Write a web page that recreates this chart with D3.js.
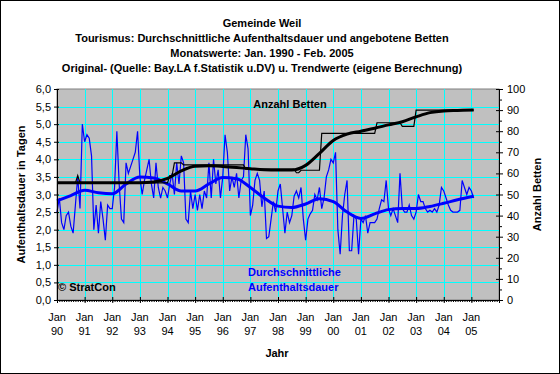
<!DOCTYPE html>
<html>
<head>
<meta charset="utf-8">
<script src="https://cdn.jsdelivr.net/npm/d3@7/dist/d3.min.js"></script>
<style>
  body { margin: 0; background: #fff; }
  svg text { font-family: "Liberation Sans", Arial, sans-serif; }
</style>
</head>
<body>
<div id="chart"></div>
<script>
(() => {

  let titleLines = [
    "Gemeinde Weil",
    "Tourismus: Durchschnittliche Aufenthaltsdauer und angebotene Betten",
    "Monatswerte: Jan. 1990 - Feb. 2005",
    "Original- (Quelle: Bay.LA f.Statistik u.DV) u. Trendwerte (eigene Berechnung)"
  ]

  let yearLabels = ["90", "91", "92", "93", "94", "95", "96", "97", "98", "99", "00", "01", "02", "03", "04", "05"]
  let leftTicks = [0, 0.5, 1, 1.5, 2, 2.5, 3, 3.5, 4, 4.5, 5, 5.5, 6]
  let rightTicks = [0, 10, 20, 30, 40, 50, 60, 70, 80, 90, 100]

  // Aufenthaltsdauer, monthly Jan 1990 - Feb 2005
  let stay = [
    2.5, 2.9, 2.2, 2.0, 2.4, 2.5, 2.1, 1.9, 2.7, 3.5, 2.6, 5.0,
    4.5, 4.7, 4.6, 4.1, 2.0, 2.7, 1.9, 2.8, 2.3, 1.7, 2.7, 2.6,
    2.6, 3.2, 4.8, 3.3, 2.3, 2.2, 3.9, 3.6, 3.8, 4.0, 4.2, 4.8,
    3.5, 3.0, 3.4, 3.7, 4.0, 3.3, 2.9, 3.9, 3.2, 2.9, 3.2, 3.1,
    2.9, 3.3, 3.6, 3.0, 3.9, 3.3, 4.1, 3.9, 2.3, 2.2, 3.1, 2.6,
    3.0, 2.55, 3.0, 2.6, 3.1, 2.9, 3.9, 2.9, 4.0, 3.3, 3.7, 2.9,
    3.5, 4.7, 4.2, 3.1, 3.5, 3.2, 3.6, 2.9, 3.4, 3.5, 4.7, 4.3,
    2.4, 2.7, 3.4, 3.6, 3.4, 2.65, 3.1, 1.75, 1.8, 2.3, 2.8, 2.5,
    3.1, 3.3, 2.6, 1.9, 2.5, 2.2, 2.4, 2.95, 3.1, 2.9, 3.2, 2.3,
    1.7, 2.3, 2.45, 2.55, 3.0, 2.85, 3.2, 2.6, 2.9, 3.5, 3.7, 4.0,
    3.9, 4.2, 2.0, 1.3, 2.4, 3.0, 3.4, 1.4, 1.4, 2.4, 2.3, 1.3,
    2.3, 2.2, 2.4, 1.9, 2.2, 2.2, 2.2, 2.3, 2.6, 2.85, 2.8, 3.4,
    2.6, 2.4, 2.6, 2.4, 2.2, 3.6, 2.6, 2.5, 2.5, 2.7, 2.4, 2.3,
    2.5, 3.0, 2.8, 2.8, 2.6, 2.5, 2.55, 2.5, 2.6, 2.5, 2.7, 3.2,
    3.1, 2.9, 2.7, 2.55, 2.5, 2.5, 2.5, 2.55, 3.4, 3.2, 3.0, 3.2,
    3.1, 2.9
  ]

  // Anzahl Betten, monthly
  let beds = [
    55.5, 55.5, 55.5, 55.5, 55.5, 55.5, 55.5, 55.5, 55.5, 59, 55.5, 55.5,
    55.5, 55.5, 55.5, 55.5, 55.5, 55.5, 55.5, 55.5, 55.5, 55.5, 55.5, 55.5,
    55.5, 55.5, 55.5, 55.5, 55.5, 55.5, 55.5, 55.5, 55.5, 55.5, 55.5, 55.5,
    55.5, 55.5, 55.5, 55.5, 55.5, 55.5, 55.5, 55.5, 55.5, 55.5, 55.5, 55.5,
    55.5, 59, 59, 65, 65, 65, 65, 64, 64, 64, 64, 64,
    64, 64, 64, 64, 64, 64, 64, 64, 64, 64, 64, 64,
    64, 64, 64, 64, 64, 64, 64, 64, 64, 64, 62, 62,
    62, 62, 62, 62, 62, 62, 62, 62, 62, 62, 62, 62,
    62, 62, 62, 62, 62, 62, 62, 62, 60.3, 60.3, 61.5, 61.5,
    61.5, 61.5, 61.5, 61.5, 61.5, 61.5, 61.5, 79, 79, 79, 79, 79,
    79, 79, 79, 79, 79, 79, 79, 79, 79, 79, 79, 79,
    79, 79, 79, 79, 79, 79, 79, 84, 84, 84, 84, 84,
    84, 84, 84, 84, 84, 84, 82.3, 82.3, 82.3, 82.3, 82.3, 82.3,
    90, 90, 90, 90, 90, 90, 90, 90, 90, 90, 90, 90,
    90, 90, 90, 90, 90, 90, 90, 90, 90, 90, 90, 90,
    90, 90
  ]

  // trend values, read every six months
  let trendMonths = [0, 6, 12, 18, 24, 30, 36, 42, 48, 54, 60, 66, 72, 78, 84, 90, 96, 102, 108, 114, 120, 126, 132, 138, 144, 150, 156, 162, 168, 174, 181]
  let stayTrend = [2.82, 2.97, 3.12, 3.05, 3.02, 3.3, 3.5, 3.47, 3.3, 3.1, 3.1, 3.3, 3.48, 3.45, 3.2, 2.9, 2.67, 2.63, 2.73, 2.88, 2.8, 2.5, 2.32, 2.45, 2.57, 2.6, 2.6, 2.66, 2.75, 2.85, 2.95]
  let bedsTrend = [55.6, 55.6, 55.6, 55.6, 55.6, 55.6, 55.6, 55.9, 57.6, 61.2, 63.4, 63.6, 63.3, 62.8, 62.2, 61.7, 61.6, 61.6, 63.8, 69.5, 75.6, 78.6, 80, 81.4, 83, 84.5, 86.8, 88.8, 89.6, 89.8, 90]

  let svg = d3.select("#chart")
  .append("svg")
  .attr("width", 560)
  .attr("height", 374)

  let margin = {top: 89, right: 61, bottom: 74, left: 57}
  let width = 560 - margin.left - margin.right
  let height = 374 - margin.top - margin.bottom

  svg.append("rect")
  .attr("x", 0.5).attr("y", 0.5)
  .attr("width", 559).attr("height", 373)
  .attr("fill", "#fff")
  .attr("stroke", "#000")

  svg.selectAll(".title")
  .data(titleLines)
  .enter()
  .append("text")
  .attr("class", "title")
  .attr("x", 262)
  .attr("y", (d, i) => 26.5 + i * 15)
  .attr("text-anchor", "middle")
  .style("font-size", "11px")
  .style("font-weight", "bold")
  .text(d => d)

  let x = d3.scaleLinear().domain([0, 192]).range([margin.left, margin.left + width])
  let yL = d3.scaleLinear().domain([0, 6]).range([margin.top + height, margin.top])
  let yR = d3.scaleLinear().domain([0, 100]).range([margin.top + height, margin.top])

  svg.append("rect")
  .attr("x", margin.left).attr("y", margin.top)
  .attr("width", width).attr("height", height)
  .attr("fill", "#c0c0c0")
  .attr("stroke", "#808080")

  let grid = svg.append("g").attr("stroke", "#00ffff").attr("stroke-width", 1)

  grid.selectAll(".hgrid")
  .data(leftTicks.filter(d => d > 0 && d < 6))
  .enter()
  .append("line")
  .attr("x1", margin.left).attr("x2", margin.left + width)
  .attr("y1", d => Math.round(yL(d)) + 0.5).attr("y2", d => Math.round(yL(d)) + 0.5)

  grid.selectAll(".vgrid")
  .data(d3.range(12, 192, 12))
  .enter()
  .append("line")
  .attr("y1", margin.top).attr("y2", margin.top + height)
  .attr("x1", d => Math.round(x(d)) + 0.5).attr("x2", d => Math.round(x(d)) + 0.5)

  let stayLine = d3.line().x((d, i) => x(i)).y(d => yL(d))
  let bedsLine = d3.line().x((d, i) => x(i)).y(d => yR(d))
  let stayTrendLine = d3.line().x((d, i) => x(trendMonths[i])).y(d => yL(d)).curve(d3.curveMonotoneX)
  let bedsTrendLine = d3.line().x((d, i) => x(trendMonths[i])).y(d => yR(d)).curve(d3.curveMonotoneX)

  svg.append("path").datum(stay)
  .attr("d", stayLine).attr("fill", "none").attr("stroke", "#0000ff").attr("stroke-width", 1.2)

  svg.append("path").datum(stayTrend)
  .attr("d", stayTrendLine).attr("fill", "none").attr("stroke", "#0000ff").attr("stroke-width", 3)

  svg.append("path").datum(beds)
  .attr("d", bedsLine).attr("fill", "none").attr("stroke", "#000").attr("stroke-width", 1.2)

  svg.append("path").datum(bedsTrend)
  .attr("d", bedsTrendLine).attr("fill", "none").attr("stroke", "#000").attr("stroke-width", 3)

  // left axis
  let leftAxis = svg.append("g")
  .attr("transform", "translate(" + margin.left + ",0)")
  .call(d3.axisLeft(yL).tickValues(leftTicks).tickSize(3).tickSizeOuter(0).tickPadding(3)
    .tickFormat(d => d3.format(".1f")(d).replace(".", ",")))
  leftAxis.selectAll(".tick line").attr("x1", 2)

  // right axis
  let rightAxis = svg.append("g")
  .attr("transform", "translate(" + (margin.left + width) + ",0)")
  .call(d3.axisRight(yR).tickValues(rightTicks).tickSize(4).tickSizeOuter(0).tickPadding(4))
  rightAxis.selectAll(".tick line").attr("x1", -3)

  svg.append("g")
  .attr("transform", "translate(" + (margin.left + width) + ",0)")
  .call(d3.axisRight(yR).tickValues(d3.range(5, 100, 10)).tickSize(3).tickFormat(""))
  .select(".domain").remove()

  // bottom axis: monthly minor ticks, yearly major ticks
  svg.append("g")
  .attr("transform", "translate(0," + (margin.top + height) + ")")
  .call(d3.axisBottom(x).tickValues(d3.range(0, 193)).tickSize(2).tickSizeOuter(0).tickFormat(""))

  let bottomAxis = svg.append("g")
  .attr("transform", "translate(0," + (margin.top + height) + ")")
  .call(d3.axisBottom(x).tickValues(d3.range(0, 193, 12)).tickSize(3).tickSizeOuter(0).tickFormat(""))
  bottomAxis.selectAll(".tick line").attr("y1", -3)

  svg.selectAll("text").filter(function() { return this.parentNode.classList.contains("tick") })
  .style("font-size", "11px")
  .style("font-family", "'Liberation Sans', Arial, sans-serif")
  .attr("fill", "#000")

  let xLabels = svg.selectAll(".xlabel")
  .data(yearLabels)
  .enter()
  .append("text")
  .attr("class", "xlabel")
  .attr("text-anchor", "middle")
  .style("font-size", "11px")
  xLabels.append("tspan").attr("x", (d, i) => x(i * 12)).attr("y", 320.5).text("Jan")
  xLabels.append("tspan").attr("x", (d, i) => x(i * 12)).attr("y", 334.5).text(d => d)

  svg.append("text")
  .attr("x", 277).attr("y", 357)
  .attr("text-anchor", "middle")
  .style("font-size", "11px").style("font-weight", "bold")
  .text("Jahr")

  svg.append("text")
  .attr("transform", "translate(25," + (margin.top + height / 2) + ") rotate(-90)")
  .attr("text-anchor", "middle")
  .style("font-size", "11px").style("font-weight", "bold")
  .text("Aufenthaltsdauer in Tagen")

  svg.append("text")
  .attr("transform", "translate(541," + (margin.top + height / 2) + ") rotate(-90)")
  .attr("text-anchor", "middle")
  .style("font-size", "11px").style("font-weight", "bold")
  .text("Anzahl Betten")

  // series labels inside the plot
  svg.append("text")
  .attr("x", 290).attr("y", 108)
  .attr("text-anchor", "middle")
  .style("font-size", "11px").style("font-weight", "bold")
  .text("Anzahl Betten")

  svg.append("text")
  .attr("x", 248).attr("y", 276)
  .attr("fill", "#0000ff")
  .style("font-size", "11px").style("font-weight", "bold")
  .text("Durchschnittliche")

  svg.append("text")
  .attr("x", 248).attr("y", 291)
  .attr("fill", "#0000ff")
  .style("font-size", "11px").style("font-weight", "bold")
  .text("Aufenthaltsdauer")

  svg.append("text")
  .attr("x", 58).attr("y", 291)
  .style("font-size", "11px").style("font-weight", "bold")
  .text("© StratCon")

})()
</script>
</body>
</html>
